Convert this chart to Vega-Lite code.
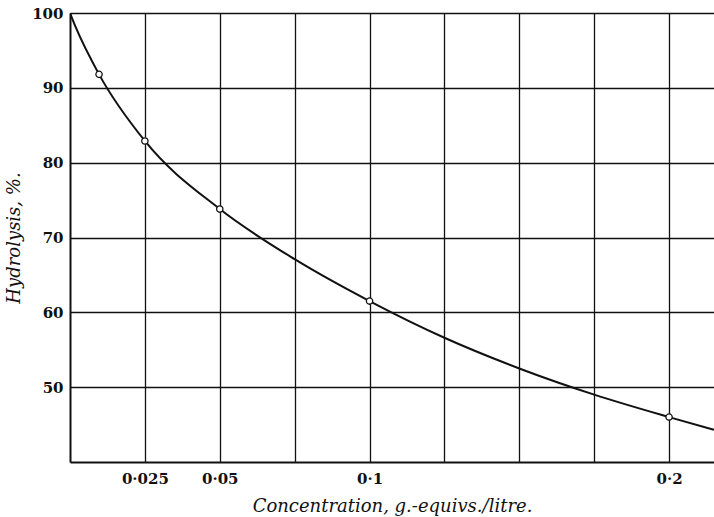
{
  "$schema": "https://vega.github.io/schema/vega-lite/v6.json",
  "width": 644,
  "height": 449,
  "autosize": {"type": "none"},
  "padding": {"left": 70, "top": 13, "right": 0, "bottom": 55},
  "background": "white",
  "config": {
    "view": {"stroke": null},
    "axis": {
      "labelFont": "DejaVu Serif",
      "labelFontWeight": "bold",
      "labelFontSize": 15,
      "labelColor": "#111",
      "titleFont": "DejaVu Serif",
      "titleFontStyle": "italic",
      "titleFontWeight": "normal",
      "titleFontSize": 18,
      "titleColor": "#111",
      "gridColor": "#111",
      "gridOpacity": 1,
      "gridWidth": 1.3,
      "domainColor": "#111",
      "domainWidth": 2,
      "ticks": false
    }
  },
  "datasets": {
    "curve": [
      {"c": 0, "h": 100},
      {"c": 0.0018, "h": 98.2},
      {"c": 0.0097, "h": 91.8},
      {"c": 0.025, "h": 82.9},
      {"c": 0.05, "h": 73.8},
      {"c": 0.075, "h": 67.1},
      {"c": 0.1, "h": 61.5},
      {"c": 0.125, "h": 56.6},
      {"c": 0.15, "h": 52.5},
      {"c": 0.175, "h": 49.0},
      {"c": 0.2, "h": 46.0},
      {"c": 0.215, "h": 44.3}
    ],
    "obs": [
      {"c": 0.0097, "h": 91.8},
      {"c": 0.025, "h": 82.9},
      {"c": 0.05, "h": 73.8},
      {"c": 0.1, "h": 61.5},
      {"c": 0.2, "h": 46.0}
    ]
  },
  "layer": [
    {
      "data": {"name": "curve"},
      "mark": {"type": "line", "color": "#111", "strokeWidth": 2, "interpolate": "monotone", "clip": true},
      "encoding": {
        "x": {
          "field": "c", "type": "quantitative",
          "scale": {"domain": [0, 0.215], "nice": false, "zero": false},
          "axis": {
            "values": [0.025, 0.05, 0.075, 0.1, 0.125, 0.15, 0.175, 0.2],
            "labelExpr": "datum.value == 0.025 ? '0·025' : datum.value == 0.05 ? '0·05' : datum.value == 0.1 ? '0·1' : datum.value == 0.2 ? '0·2' : ''",
            "labelPadding": 9,
            "title": "Concentration, g.-equivs./litre.",
            "titlePadding": 11
          }
        },
        "y": {
          "field": "h", "type": "quantitative",
          "scale": {"domain": [40, 100], "nice": false, "zero": false},
          "axis": {
            "values": [50, 60, 70, 80, 90, 100],
            "labelPadding": 7,
            "title": "Hydrolysis, %.",
            "titlePadding": 8
          }
        }
      }
    },
    {
      "data": {"name": "obs"},
      "mark": {"type": "point", "shape": "circle", "filled": false, "fill": "white", "stroke": "#111", "strokeWidth": 1.3, "size": 40, "opacity": 1},
      "encoding": {
        "x": {"field": "c", "type": "quantitative"},
        "y": {"field": "h", "type": "quantitative"}
      }
    }
  ]
}
